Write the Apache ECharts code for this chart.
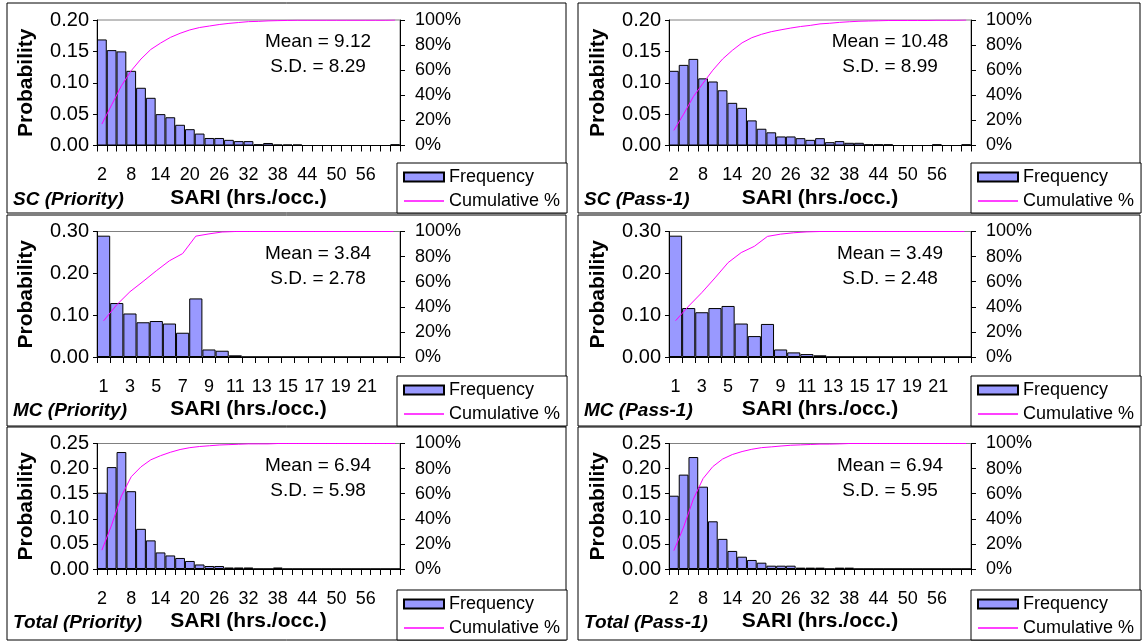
<!DOCTYPE html>
<html><head><meta charset="utf-8">
<script src="https://cdn.jsdelivr.net/npm/echarts@6.0.0/dist/echarts.min.js"></script>
<style>html,body{margin:0;padding:0;background:#fff}#c{width:1144px;height:642px}</style>
</head><body><div id="c"></div>
<script>
// ---------- data ----------
const catSC = [2,4,6,8,10,12,14,16,18,20,22,24,26,28,30,32,34,36,38,40,42,44,46,48,50,52,54,56,58,60,62];
const catMC = [1,2,3,4,5,6,7,8,9,10,11,12,13,14,15,16,17,18,19,20,21,22,23];
const catTotal = [2,4,6,8,10,12,14,16,18,20,22,24,26,28,30,32,34,36,38,40,42,44,46,48,50,52,54,56,58,60,62];

const freqSCPriority = [0.169,0.152,0.150,0.119,0.092,0.076,0.050,0.045,0.033,0.026,0.019,0.012,0.012,0.009,0.007,0.007,0.002,0.004,0.0015,0.0015,0.0015,0,0,0,0,0,0,0,0,0,0.002];
const cumSCPriority = [17.1,32.4,47.6,59.6,68.9,76.5,81.6,86.1,89.4,92.1,94.0,95.2,96.4,97.3,98.0,98.7,98.9,99.3,99.5,99.65,99.8,99.8,99.8,99.8,99.8,99.8,99.8,99.8,99.8,99.8,100];

const freqSCPass1 = [0.119,0.1285,0.138,0.107,0.102,0.088,0.068,0.060,0.040,0.0267,0.021,0.0144,0.0144,0.0117,0.009,0.0117,0.0053,0.007,0.0043,0.0043,0.002,0.002,0.002,0,0,0,0,0.002,0,0,0.002];
const cumSCPass1 = [12.0,25.0,38.9,49.7,60.0,68.9,75.8,81.8,85.9,88.6,90.7,92.2,93.6,94.8,95.7,96.9,97.4,98.1,98.6,99.0,99.2,99.4,99.6,99.6,99.6,99.6,99.6,99.8,99.8,99.8,100];

const freqMCPriority = [0.290,0.129,0.104,0.083,0.086,0.080,0.058,0.140,0.018,0.015,0.004,0,0,0,0,0,0,0,0,0,0,0,0];
const cumMCPriority = [28.8,41.6,52.0,60.2,68.7,76.7,82.4,96.3,98.1,99.6,100,100,100,100,100,100,100,100,100,100,100,100,100];

const freqMCPass1 = [0.290,0.117,0.107,0.117,0.122,0.080,0.050,0.079,0.018,0.011,0.007,0.004,0,0,0,0,0,0,0,0,0,0,0];
const cumMCPass1 = [28.9,40.6,51.3,63.0,75.2,83.2,88.2,96.1,97.9,99.0,99.7,100,100,100,100,100,100,100,100,100,100,100,100];

const freqTotalPriority = [0.152,0.203,0.233,0.155,0.080,0.057,0.033,0.027,0.022,0.016,0.009,0.006,0.006,0.003,0.003,0.003,0,0,0.003,0,0,0,0,0,0,0,0,0,0,0,0];
const cumTotalPriority = [15.0,35.1,58.2,73.5,81.4,87.0,90.3,93.0,95.2,96.7,97.6,98.2,98.8,99.1,99.4,99.7,99.7,99.7,100,100,100,100,100,100,100,100,100,100,100,100,100];

const freqTotalPass1 = [0.146,0.188,0.223,0.164,0.095,0.060,0.036,0.0245,0.018,0.0126,0.0066,0.0066,0.0066,0.0027,0.0027,0.0027,0,0.0027,0.0027,0,0,0,0,0,0,0,0,0,0,0,0];
const cumTotalPass1 = [14.6,33.4,55.7,72.1,81.6,87.6,91.2,93.6,95.4,96.7,97.3,98.0,98.6,98.9,99.2,99.5,99.5,99.7,100,100,100,100,100,100,100,100,100,100,100,100,100];

const panelLabels = ['SC (Priority)','SC (Pass-1)','MC (Priority)','MC (Pass-1)','Total (Priority)','Total (Pass-1)'];
const meanTexts = ['Mean = 9.12','Mean = 10.48','Mean = 3.84','Mean = 3.49','Mean = 6.94','Mean = 6.94'];
const sdTexts = ['S.D. = 8.29','S.D. = 8.99','S.D. = 2.78','S.D. = 2.48','S.D. = 5.98','S.D. = 5.95'];
const yMaxes = [0.20,0.20,0.30,0.30,0.25,0.25];
const yIntervals = [0.05,0.05,0.10,0.10,0.05,0.05];
const xLabelSteps = [3,3,2,2,3,3];

const categories = [catSC,catSC,catMC,catMC,catTotal,catTotal];
const freqs = [freqSCPriority,freqSCPass1,freqMCPriority,freqMCPass1,freqTotalPriority,freqTotalPass1];
const cums = [cumSCPriority,cumSCPass1,cumMCPriority,cumMCPass1,cumTotalPriority,cumTotalPass1];

// ---------- layout ----------
const FONT = "'Liberation Sans', Arial, Helvetica, sans-serif";
const L = {
  plotLeft: [97, 669],
  plotWidth: [303, 302],
  plotTop: [20, 231.5, 443.5],
  plotHeight: 125.5,
  panelX: [[7, 566], [578, 1140]],
  panelY: [[3, 213], [215, 426], [427, 640]]
};

const grids = [], xAxes = [], yAxes = [], series = [], legends = [], graphics = [];

for (let i = 0; i < 6; i++) {
  const col = i % 2, row = Math.floor(i / 2);
  const left = L.plotLeft[col], top = L.plotTop[row], w = L.plotWidth[col], h = L.plotHeight;
  const cats = categories[i];
  const step = xLabelSteps[i];
  grids.push({left: left, top: top, width: w, height: h, show: true, borderColor: '#808080', borderWidth: 1, backgroundColor: 'transparent'});
  xAxes.push({
    gridIndex: i, type: 'category', data: cats.map(String),
    axisLine: {lineStyle: {color: '#000', width: 1}},
    axisTick: {show: true, interval: 0, length: 6, lineStyle: {color: '#000'}},
    axisLabel: {interval: (idx) => idx % step === 0 && idx < cats.length - 2, color: '#000', fontSize: 18, fontFamily: FONT, margin: 21},
    name: 'SARI (hrs./occ.)', nameLocation: 'middle', nameGap: 42,
    nameTextStyle: {fontWeight: 'bold', fontSize: 21, color: '#000', fontFamily: FONT}
  });
  yAxes.push({
    gridIndex: i, type: 'value', position: 'left', min: 0, max: yMaxes[i], interval: yIntervals[i],
    axisLine: {show: true, lineStyle: {color: '#000'}},
    axisTick: {show: true, length: 4, lineStyle: {color: '#000'}},
    splitLine: {show: false},
    axisLabel: {formatter: (v) => v.toFixed(2), color: '#000', fontSize: 20, fontFamily: FONT, margin: 8},
    name: 'Probability', nameLocation: 'middle', nameGap: 60, nameRotate: 90,
    nameTextStyle: {fontWeight: 'bold', fontSize: 21, color: '#000', fontFamily: FONT}
  });
  yAxes.push({
    gridIndex: i, type: 'value', position: 'right', min: 0, max: 100, interval: 20,
    axisLine: {show: true, lineStyle: {color: '#000'}},
    axisTick: {show: true, length: 5, lineStyle: {color: '#000'}},
    splitLine: {show: false},
    axisLabel: {formatter: '{value}%', color: '#000', fontSize: 18, fontFamily: FONT, margin: 15}
  });
  series.push({
    type: 'bar', name: 'Frequency', xAxisIndex: i, yAxisIndex: 2 * i, data: freqs[i],
    barCategoryGap: '0%', itemStyle: {color: '#9999FF', borderColor: '#000', borderWidth: 1},
    emphasis: {disabled: true}, animation: false
  });
  series.push({
    type: 'line', name: 'Cumulative %', xAxisIndex: i, yAxisIndex: 2 * i + 1, data: cums[i],
    symbol: 'none', lineStyle: {color: '#FF00FF', width: 1}, itemStyle: {color: '#FF00FF'},
    emphasis: {disabled: true}, animation: false, z: 5
  });
  const px = L.panelX[col], py = L.panelY[row];
  legends.push({
    orient: 'vertical', left: px[1] - 169, top: py[1] - 50,
    padding: [5, 7, 3, 6], itemGap: 6, itemWidth: 40, itemHeight: 9,
    backgroundColor: '#fff', borderColor: '#000', borderWidth: 1, borderRadius: 0,
    selectedMode: false,
    textStyle: {fontSize: 18, color: '#000', fontFamily: FONT},
    data: [
      {name: 'Frequency', icon: 'rect'},
      {name: 'Cumulative %', itemStyle: {opacity: 0}, lineStyle: {color: '#FF00FF', width: 1.5, opacity: 1}}
    ]
  });
  graphics.push({
    type: 'rect', z: 0, silent: true,
    shape: {x: px[0], y: py[0], width: px[1] - px[0], height: py[1] - py[0]},
    style: {fill: 'none', stroke: '#000', lineWidth: 1}
  });
  graphics.push({
    type: 'text', x: left + 221, y: top + 22, silent: true,
    style: {text: meanTexts[i], font: '19px ' + FONT, fill: '#000', align: 'center', verticalAlign: 'middle'}
  });
  graphics.push({
    type: 'text', x: left + 221, y: top + 47, silent: true,
    style: {text: sdTexts[i], font: '19px ' + FONT, fill: '#000', align: 'center', verticalAlign: 'middle'}
  });
  graphics.push({
    type: 'text', x: px[0] + 6, y: top + h + 54, silent: true,
    style: {text: panelLabels[i], font: 'italic bold 19px ' + FONT, fill: '#000', align: 'left', verticalAlign: 'middle'}
  });
}

const chart = echarts.init(document.getElementById('c'), null, {renderer: 'canvas'});
chart.setOption({
  animation: false,
  backgroundColor: '#fff',
  grid: grids, xAxis: xAxes, yAxis: yAxes, series: series, legend: legends, graphic: graphics
});
</script></body></html>
